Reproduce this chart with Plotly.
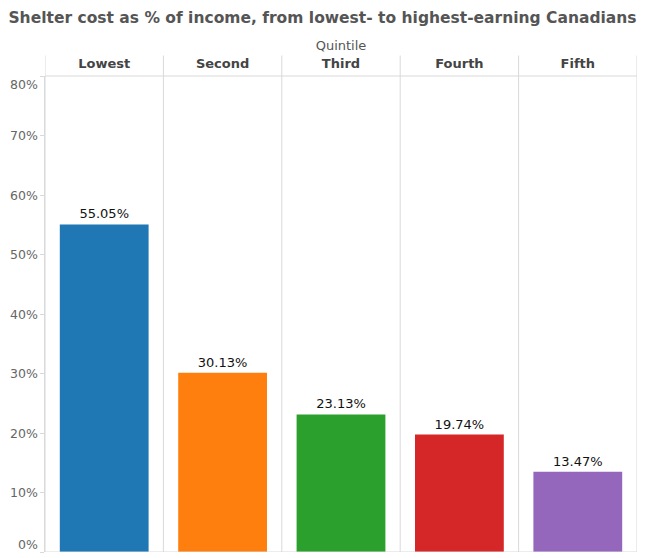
import plotly.graph_objects as go

# Shelter cost as share of income by income quintile
quintiles = ["Lowest", "Second", "Third", "Fourth", "Fifth"]
shelter_pct = [55.05, 30.13, 23.13, 19.74, 13.47]
bar_colors = ["#1f77b4", "#ff7f0e", "#2ca02c", "#d62728", "#9467bd"]
y_ticks = [0, 10, 20, 30, 40, 50, 60, 70, 80]
y_ticktext = [f"{v}%" for v in y_ticks]

grid = "#d9d9d9"

fig = go.Figure()

fig.add_trace(go.Bar(
    x=quintiles,
    y=shelter_pct,
    marker=dict(color=bar_colors, line=dict(width=0)),
    width=0.75,
    text=[f"{v:.2f}%" for v in shelter_pct],
    textposition="outside",
    textfont=dict(family="DejaVu Sans", size=13, color="#111"),
    cliponaxis=False,
    hoverinfo="skip",
))

# pane dividers running up through the header row
shapes = []
for k in range(len(quintiles) + 1):
    shapes.append(dict(type="line", xref="x", yref="paper",
                       x0=k - 0.5, x1=k - 0.5, y0=0, y1=1.043,
                       line=dict(color=grid, width=1)))
shapes.append(dict(type="line", xref="x", yref="paper",
                   x0=-0.5, x1=len(quintiles) - 0.5, y0=1, y1=1,
                   line=dict(color=grid, width=1)))

# y tick labels drawn as annotations so the end labels can sit inside like Tableau
annotations = []
for v, t in zip(y_ticks, y_ticktext):
    shift = 8 if v == y_ticks[0] else (-8 if v == y_ticks[-1] else 0)
    annotations.append(dict(
        x=0, xref="paper", y=v, yref="y", text=t, showarrow=False,
        xanchor="right", xshift=-5, yshift=shift,
        font=dict(family="DejaVu Sans", size=12.5, color="#666"),
    ))

fig.update_layout(
    width=645, height=558,
    margin=dict(l=45, r=8, t=76, b=6),
    paper_bgcolor="white",
    plot_bgcolor="white",
    showlegend=False,
    shapes=shapes,
    annotations=annotations,
    title=dict(
        text="<b>Shelter cost as % of income, from lowest- to highest-earning Canadians</b>",
        x=0.5, xanchor="center", y=0.968, yanchor="middle",
        font=dict(family="DejaVu Sans", size=15.5, color="#555"),
    ),
    xaxis=dict(
        side="top",
        range=[-0.5, len(quintiles) - 0.5],
        showgrid=False,
        ticks="",
        tickfont=dict(family="DejaVu Sans", size=13, color="#444", weight="bold"),
        ticklabelstandoff=4,
        title=dict(text="Quintile", standoff=2,
                   font=dict(family="DejaVu Sans", size=13, color="#555")),
        showline=False,
        zeroline=False,
    ),
    yaxis=dict(
        range=[0, 80],
        tickvals=y_ticks,
        showticklabels=False,
        ticks="outside",
        ticklen=4,
        tickcolor=grid,
        showgrid=False,
        zeroline=False,
        showline=True,
        linecolor=grid,
    ),
    bargap=0.25,
)

fig.add_hline(y=0, line=dict(color=grid, width=1))

fig.write_html("out.html",
               config={"displayModeBar": False},
               post_script="document.body.style.margin='0';document.body.style.overflow='hidden';")
